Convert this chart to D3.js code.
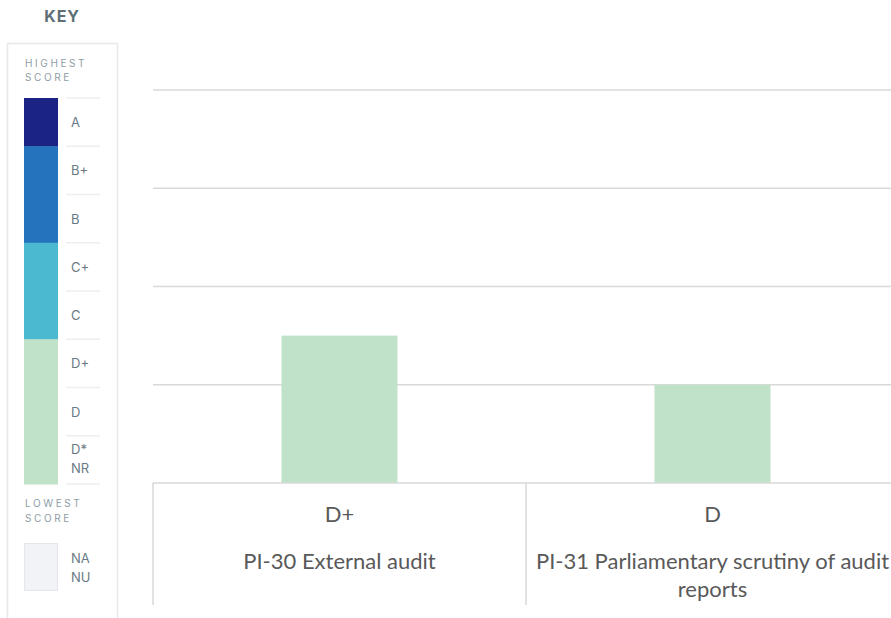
<!DOCTYPE html>
<html><head><meta charset="utf-8">
<script src="https://cdn.jsdelivr.net/npm/d3@7"></script>
<style>
body{margin:0;background:#fff;}
svg{display:block;}
</style></head>
<body>
<svg id="c" width="891" height="618"></svg>
<script>
// ---- data ----
const categories = ["PI-30 External audit", "PI-31 Parliamentary scrutiny of audit reports"];
const scoreLabels = ["D+", "D"];
const scoreValues = [1.5, 1];
const gridValues = [1, 2, 3, 4];
const keyGrades = ["A", "B+", "B", "C+", "C", "D+", "D", "D*|NR"];
const keyGroups = ["A", "B", "B", "C", "C", "D", "D", "D"];
const groupColors = {A: "#1b2383", B: "#2473bc", C: "#4bbad0", D: "#bfe2c8"};
const naLabels = ["NA", "NU"];

const svg = d3.select("#c");

// ---- scales ----
const x = d3.scaleBand().domain(categories).range([153, 899]).paddingInner(0).paddingOuter(0);
const y = d3.scaleLinear().domain([0, 4]).range([483, 90]);
const barW = 116;

// gridlines
svg.append("g").selectAll("line").data(gridValues).join("line")
  .attr("x1", 153).attr("x2", 891)
  .attr("y1", d => y(d)).attr("y2", d => y(d))
  .attr("stroke", "#d9d9d9").attr("stroke-width", 1.5);

// bars
svg.append("g").selectAll("rect").data(categories).join("rect")
  .attr("x", d => x(d) + x.bandwidth() / 2 - barW / 2)
  .attr("width", barW)
  .attr("y", (d, i) => y(scoreValues[i]))
  .attr("height", (d, i) => y(0) - y(scoreValues[i]))
  .attr("fill", groupColors.D);

// table lines
svg.append("line").attr("x1", 153).attr("x2", 891).attr("y1", y(0)).attr("y2", y(0))
  .attr("stroke", "#d9d9d9").attr("stroke-width", 1.5);
svg.append("g").selectAll("line").data(categories).join("line")
  .attr("x1", d => x(d)).attr("x2", d => x(d))
  .attr("y1", y(0)).attr("y2", 605)
  .attr("stroke", "#d9d9d9").attr("stroke-width", 1.5);

const labelFont = "Lato, 'Open Sans', sans-serif";
// score labels
svg.append("g").selectAll("text").data(categories).join("text")
  .attr("x", d => x(d) + x.bandwidth() / 2)
  .attr("y", 522)
  .attr("text-anchor", "middle")
  .attr("font-family", labelFont)
  .attr("font-size", 22)
  .attr("fill", "#595959")
  .text((d, i) => scoreLabels[i]);

// category labels (wrapped)
const catG = svg.append("g").selectAll("text").data(categories).join("text")
  .attr("x", d => x(d) + x.bandwidth() / 2)
  .attr("y", 569)
  .attr("text-anchor", "middle")
  .attr("font-family", labelFont)
  .attr("font-size", 22)
  .attr("fill", "#595959");
catG.each(function(d) {
  const t = d3.select(this);
  const maxW = x.bandwidth() - 6;
  const words = d.split(" ");
  let line = [];
  let ts = t.append("tspan").attr("x", x(d) + x.bandwidth() / 2).attr("dy", 0);
  words.forEach(w => {
    line.push(w);
    ts.text(line.join(" "));
    if (ts.node().getComputedTextLength() > maxW && line.length > 1) {
      line.pop();
      ts.text(line.join(" "));
      line = [w];
      ts = t.append("tspan").attr("x", x(d) + x.bandwidth() / 2).attr("dy", 28).text(w);
    }
  });
});

// ---- key ----
const key = svg.append("g");
key.append("text").attr("x", 62).attr("y", 22).attr("text-anchor", "middle")
  .attr("font-family", "Inter, sans-serif").attr("font-weight", 700).attr("font-size", 16)
  .attr("letter-spacing", 0.8).attr("fill", "#5e6f78").text("KEY");
key.append("rect").attr("x", 7.5).attr("y", 43.5).attr("width", 110).attr("height", 600)
  .attr("fill", "none").attr("stroke", "#e6e8eb").attr("stroke-width", 1.5);

function caps(lines, y0) {
  key.append("g").selectAll("text").data(lines).join("text")
    .attr("x", 25).attr("y", (d, i) => y0 + i * 14.5)
    .attr("font-family", "Inter, sans-serif").attr("font-size", 10)
    .attr("letter-spacing", 2.6).attr("fill", "#8e9da6").text(d => d);
}
caps(["HIGHEST", "SCORE"], 66.5);
caps(["LOWEST", "SCORE"], 507);

const ky = d3.scaleBand().domain(keyGrades).range([98, 484]);
key.append("g").selectAll("rect").data(keyGrades).join("rect")
  .attr("x", 24).attr("width", 34)
  .attr("y", d => ky(d)).attr("height", ky.bandwidth() + 0.5)
  .attr("fill", (d, i) => groupColors[keyGroups[i]]);
key.append("g").selectAll("line").data(keyGrades.concat(["end"])).join("line")
  .attr("x1", 66).attr("x2", 100)
  .attr("y1", (d, i) => 98 + i * ky.bandwidth()).attr("y2", (d, i) => 98 + i * ky.bandwidth())
  .attr("stroke", "#eceef0").attr("stroke-width", 1.5);
key.append("g").selectAll("text").data(keyGrades).join("text")
  .attr("font-family", "Inter, sans-serif").attr("font-size", 13).attr("fill", "#6a7a84")
  .each(function(d) {
    const parts = d.split("|");
    const t = d3.select(this);
    const cy = ky(d) + ky.bandwidth() / 2;
    parts.forEach((p, j) => {
      t.append("tspan").attr("x", 71)
        .attr("y", parts.length === 1 ? cy + 5 : cy + 3.5 + (j - 0.5) * 19).text(p);
    });
  });

// NA / NU box
key.append("rect").attr("x", 24.5).attr("y", 543.5).attr("width", 33).attr("height", 47)
  .attr("fill", "#f1f3f6").attr("stroke", "#e3e6ea");
key.append("g").selectAll("text").data(naLabels).join("text")
  .attr("x", 71).attr("y", (d, i) => 562.5 + i * 19)
  .attr("font-family", "Inter, sans-serif").attr("font-size", 13).attr("fill", "#6a7a84")
  .text(d => d);
</script>
</body></html>
